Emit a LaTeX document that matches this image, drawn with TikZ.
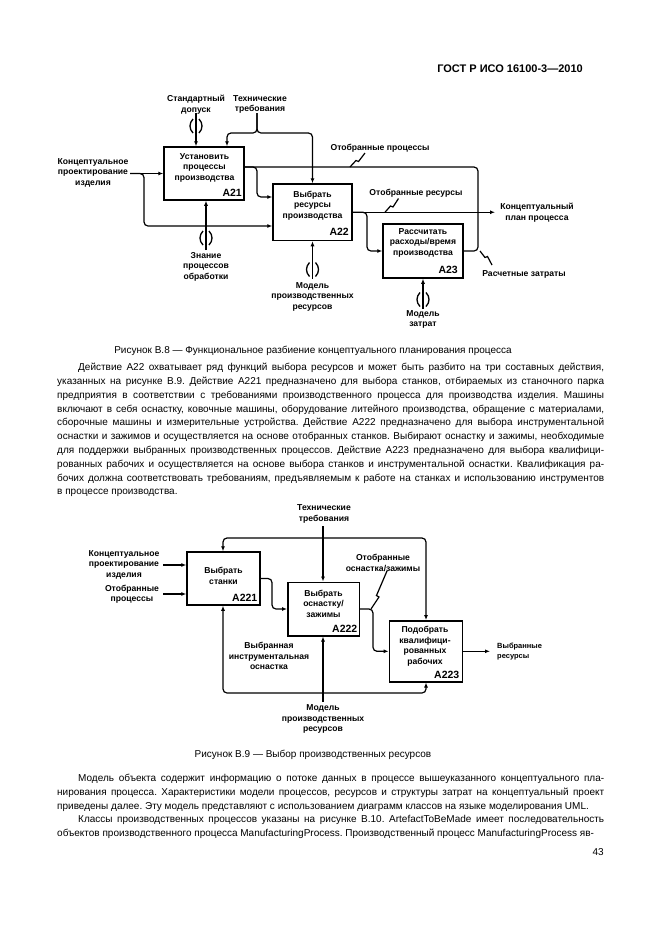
\documentclass[tikz,border=0pt]{standalone}
\usepackage{fontspec}
\setmainfont{Liberation Sans}
\usetikzlibrary{arrows.meta,calc}
\begin{document}
\frenchspacing
\begin{tikzpicture}[x=1pt,y=-1pt,
  box/.style={draw, line width=1.5pt, inner sep=0pt},
  ttl/.style={font=\bfseries\fontsize{8.6}{10.5}\selectfont, align=center, inner sep=0pt},
  lbl/.style={font=\bfseries\fontsize{8.6}{10.5}\selectfont, align=center, inner sep=0pt},
  slbl/.style={font=\bfseries\fontsize{7.5}{10.5}\selectfont, align=left, inner sep=0pt},
  num/.style={font=\bfseries\fontsize{10.5}{12}\selectfont, inner sep=0pt, anchor=south east},
  ln/.style={line width=1.2pt, rounded corners=4pt},
  arr/.style={ln, -{Latex[length=5pt,width=4pt]}},
  sq/.style={line width=1.2pt},
  txt/.style={font=\fontsize{10.0}{13.8}\selectfont, inner sep=0pt},
  para/.style={font=\fontsize{10.0}{13.8}\selectfont, inner sep=0pt, text width=547pt, align=justify, anchor=north west},
  tunnel/.pic={\draw[line width=1.3pt] (-3,-7) .. controls (-7,-3) and (-7,3) .. (-3,7);
               \draw[line width=1.3pt] (3,-7) .. controls (7,-3) and (7,3) .. (3,7);}
]
\useasboundingbox (0,0) rectangle (661,935);
\fill[white] (0,0) rectangle (661,935);

% header
\node[anchor=base east, font=\bfseries\fontsize{11}{13}\selectfont, inner sep=0pt] (hdr) at (583,72) {ГОСТ Р ИСО 16100-3—2010};

% ---------------- Figure B.8 ----------------
\node[box, minimum width=80pt, minimum height=53pt] (A21) at (204,173.5) {};
\node[box, minimum width=79pt, minimum height=56.5pt] (A22) at (312.5,212.25) {};
\node[box, minimum width=80pt, minimum height=54pt] (A23) at (423,251) {};

\node[ttl, anchor=north] (A21t) at (204.5,153) {Установить\\процессы\\производства};
\node[ttl, anchor=north] (A22t) at (312.5,190.5) {Выбрать\\ресурсы\\производства};
\node[ttl, anchor=north] (A23t) at (423,228) {Рассчитать\\расходы/время\\производства};
\node[num] (A21n) at (242,197) {A21};
\node[num] (A22n) at (349,236) {A22};
\node[num] (A23n) at (458,273.5) {A23};

\node[lbl, anchor=north] (L1) at (196,95) {Стандартный\\допуск};
\node[lbl, anchor=north] (L2) at (260,95) {Технические\\требования};
\node[lbl, anchor=north] (L3) at (93,158) {Концептуальное\\проектирование\\изделия};
\node[lbl, anchor=base] (L4) at (380,150) {Отобранные процессы};
\node[lbl, anchor=base] (L5) at (416,195) {Отобранные ресурсы};
\node[lbl, anchor=north] (L6) at (537,203) {Концептуальный\\план процесса};
\node[lbl, anchor=base] (L7) at (524,276) {Расчетные затраты};
\node[lbl, anchor=north] (L8) at (206,252) {Знание\\процессов\\обработки};
\node[lbl, anchor=north] (L9) at (312.5,282) {Модель\\производственных\\ресурсов};
\node[lbl, anchor=north] (L10) at (423,310) {Модель\\затрат};

% controls
\coordinate (sd) at (196,113);
\draw[arr] (sd) -- (sd |- A21.north);
\pic at (196,126) {tunnel};
\coordinate (tr) at (257,113);
\coordinate (tr1) at (227,133);
\coordinate (tr2) at (312.5,133);
\draw[arr] (tr) |- (tr1) -- (tr1 |- A21.north);
\draw[arr] (tr) |- (tr2) -- (tr2 |- A22.north);

% inputs
\coordinate (ci) at (130,173.5);
\coordinate (cb) at (144,226);
\draw[arr] (ci) -- (ci -| A21.west);
\draw[arr] (ci) -| (cb) -- (cb -| A22.west);

% outputs A21
\coordinate (a21o) at (244,167);
\coordinate (tc) at (478,212.25);
\coordinate (b1e) at (257,197);
\draw[ln] (a21o) -| (tc);
\draw[arr] (a21o) -| (b1e) -- (b1e -| A22.west);

% outputs A22
\coordinate (out1) at (495,212.25);
\coordinate (b2) at (367,251);
\draw[arr] (A22.east) -- (out1);
\draw[arr] (A22.east) -| (b2) -- (b2 -| A23.west);
\draw[ln] (A23.east) -| (tc);

% squiggles
\coordinate (s1a) at (350,167); \coordinate (s1b) at (365,153);
\draw[sq] (s1a) -- (356,160.5) -- (358.5,161.5) -- (s1b);
\coordinate (s2a) at (385,212.25); \coordinate (s2b) at (398.5,198.5);
\draw[sq] (s2a) -- (390.5,206) -- (393,207) -- (s2b);
\coordinate (s3a) at (480,251); \coordinate (s3b) at (492,265);
\draw[sq] (s3a) -- (485,257.5) -- (487.5,256.5) -- (s3b);

% mechanisms
\coordinate (zn) at (206,250);
\draw[arr] (zn) -- (zn |- A21.south);
\pic at (206,238) {tunnel};
\coordinate (mp) at (312.5,279);
\draw[arr] (mp) -- (mp |- A22.south);
\pic at (312.5,269.5) {tunnel};
\coordinate (mz) at (423,309);
\draw[arr] (mz) -- (mz |- A23.south);
\pic at (423,299.5) {tunnel};

\node[txt, anchor=base] (cap1) at (313,353.5) {Рисунок В.8 — Функциональное разбиение концептуального планирования процесса};

\node[para] (p1) at (57,363) {\hspace*{21pt}Действие A22 охватывает ряд функций выбора ресурсов и может быть разбито на три составных действия,\linebreak
указанных на рисунке В.9. Действие A221 предназначено для выбора станков, отбираемых из станочного парка\linebreak
предприятия в соответствии с требованиями производственного процесса для производства изделия. Машины\linebreak
включают в себя оснастку, ковочные машины, оборудование литейного производства, обращение с материалами,\linebreak
сборочные машины и измерительные устройства. Действие A222 предназначено для выбора инструментальной\linebreak
оснастки и зажимов и осуществляется на основе отобранных станков. Выбирают оснастку и зажимы, необходимые\linebreak
для поддержки выбранных производственных процессов. Действие A223 предназначено для выбора квалифици-\linebreak
рованных рабочих и осуществляется на основе выбора станков и инструментальной оснастки. Квалификация ра-\linebreak
бочих должна соответствовать требованиям, предъявляемым к работе на станках и использованию инструментов\linebreak
в процессе производства.};

% ---------------- Figure B.9 ----------------
\node[box, minimum width=73pt, minimum height=53pt] (B1) at (223.5,578.5) {};
\node[box, minimum width=71.5pt, minimum height=53.5pt] (B2) at (323.5,609) {};
\node[box, minimum width=73pt, minimum height=61pt] (B3) at (425.8,651.3) {};

\node[ttl, anchor=north] (B1t) at (223.5,567) {Выбрать\\станки};
\node[ttl, anchor=north] (B2t) at (323.5,589.5) {Выбрать\\оснастку/\\зажимы};
\node[ttl, anchor=north] (B3t) at (425,626) {Подобрать\\квалифици-\\рованных\\рабочих};
\node[num] (B1n) at (257.5,602) {A221};
\node[num] (B2n) at (357.5,633) {A222};
\node[num] (B3n) at (459.5,679) {A223};

\node[lbl, anchor=north] (M1) at (324,504.5) {Технические\\требования};
\node[lbl, anchor=north] (M2) at (124,550) {Концептуальное\\проектирование\\изделия};
\node[lbl, anchor=north] (M3) at (132,584.5) {Отобранные\\процессы};
\node[lbl, anchor=north] (M4) at (383,554) {Отобранные\\оснастка/зажимы};
\node[slbl, anchor=north west] (M5) at (497,642.5) {Выбранные\\ресурсы};
\node[lbl, anchor=north] (M6) at (269,642) {Выбранная\\инструментальная\\оснастка};
\node[lbl, anchor=north] (M7) at (323,704.5) {Модель\\производственных\\ресурсов};

\coordinate (tt) at (323,526);
\coordinate (tm) at (323,538);
\coordinate (tl) at (223,538);
\coordinate (trr) at (426,538);
\draw[arr] (tt) -- (tt |- B2.north);
\draw[arr] (tm) -- (tl) -- (tl |- B1.north);
\draw[arr] (tm) -- (trr) -- (trr |- B3.north);

\coordinate (ci1) at (163,565);
\coordinate (ci2) at (163,594);
\draw[arr] (ci1) -- (ci1 -| B1.west);
\draw[arr] (ci2) -- (ci2 -| B1.west);

\coordinate (k1) at (272,609);
\draw[arr] (B1.east) -| (k1) -- (k1 -| B2.west);
\coordinate (k2) at (373,651.3);
\draw[arr] (B2.east) -| (k2) -- (k2 -| B3.west);
\coordinate (o3) at (490,651.3);
\draw[arr] (B3.east) -- (o3);

\coordinate (mb) at (323,702);
\coordinate (bm) at (323,693);
\coordinate (bl) at (223,693);
\coordinate (br) at (426,693);
\draw[arr] (mb) -- (mb |- B2.south);
\draw[arr] (bm) -- (bl) -- (bl |- B1.south);
\draw[arr] (bm) -- (br) -- (br |- B3.south);

\coordinate (s4a) at (371,609); \coordinate (s4b) at (387,571);
\draw[sq] (s4a) -- (379,597) -- (376.5,595.5) -- (s4b);

\node[txt, anchor=base] (cap2) at (313,757) {Рисунок В.9 — Выбор производственных ресурсов};

\node[para] (p2) at (57,774) {\hspace*{21pt}Модель объекта содержит информацию о потоке данных в процессе вышеуказанного концептуального пла-\linebreak
нирования процесса. Характеристики модели процессов, ресурсов и структуры затрат на концептуальный проект\linebreak
приведены далее. Эту модель представляют с использованием диаграмм классов на языке моделирования UML.\par
\hspace*{21pt}Классы производственных процессов указаны на рисунке В.10. ArtefactToBeMade имеет последовательность\linebreak
объектов производственного процесса ManufacturingProcess. Производственный процесс ManufacturingProcess яв-};

\node[txt, anchor=base east] (pg) at (604,855) {43};
\end{tikzpicture}
\end{document}
